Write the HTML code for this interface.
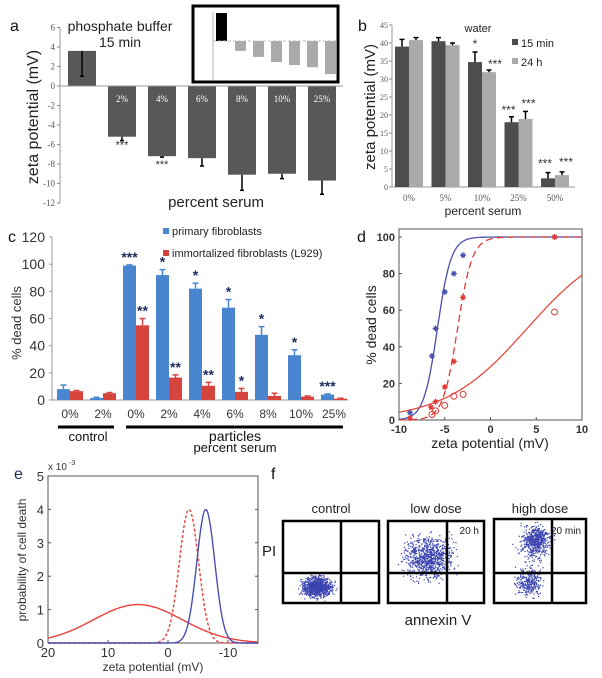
<!DOCTYPE html>
<html><head><meta charset="utf-8"><style>
body{margin:0;background:#fff}
svg{display:block;font-family:"Liberation Sans",sans-serif}
</style></head><body>
<svg id="fig" width="602" height="678" viewBox="0 0 602 678"></svg>
<script>
// ---------- data ----------
const aCats=["0%","2%","4%","6%","8%","10%","25%"];
const aVals=[3.6,-5.2,-7.2,-7.4,-9.1,-9.0,-9.7];
const aErrLo=[1.0,-5.6,-7.3,-8.2,-10.7,-9.5,-11.1];
const aTicks=[6,4,2,0,-2,-4,-6,-8,-10,-12];
const insetVals=[6.5,-2.3,-3.7,-4.9,-5.6,-6.1,-7.7];
const bCats=["0%","5%","10%","25%","50%"];
const b15=[39,40.5,34.7,18,2.4];
const b24=[40.8,39.4,31.9,18.9,3.3];
const b15Err=[41,41.5,37.5,19.5,4];
const b24Err=[41.5,40,32.5,21,4.2];
const bTicks=[0,5,10,15,20,25,30,35,40,45];
const cCats=["0%","2%","0%","2%","4%","6%","8%","10%","25%"];
const cBlue=[8,1.5,99,92,82,68,48,33,4];
const cRed=[6.5,5,55,16.5,10.5,6,3,2.5,1];
const cBlueErr=[11,2,99.5,96,86,74,54,37,4.5];
const cRedErr=[7,5.5,60,18.5,13,8.5,5,3,1.3];
const cBlueStars=["","","***","*","*","*","*","*","***"];
const cRedStars=["","","**","**","**","*","","",""];
const cTicks=[0,20,40,60,80,100,120];
const dBlueX=[-8.8,-6.4,-6,-5,-4,-3,7];
const dBlueY=[4,35,50,70,80,90,100];
const dRedStarX=[-8.8,-6.5,-6,-5,-4,-3,7];
const dRedStarY=[1,7,10,18,32,67,100];
const dCircX=[-6.4,-6,-5,-4,-3,7];
const dCircY=[3,5,8,13,14,59];
const dFitCenter=[-5.8,-3.6,4];
const dFitScale=[0.75,0.8,4.5];
const eMeans=[5,-3.5,-6.3];
const eSigmas=[7.4,1.6,1.5];
const ePeaks=[1.15,4,4];
const fCenters=[[0.35,0.8],[0.42,0.45],[0.45,0.3]];

const S=document.getElementById('fig');
const NS='http://www.w3.org/2000/svg';
function el(t,a,p){const e=document.createElementNS(NS,t);for(const k in a)e.setAttribute(k,a[k]);(p||S).appendChild(e);return e;}
function tx(x,y,s,a,p){const e=el('text',Object.assign({x:x,y:y},a||{}),p);e.textContent=s;return e;}

// ---------- panel a ----------
const ga=el('g',{});


const ay=v=>86-v*9.75;
const ax=i=>82+i*40;
aTicks.forEach(t=>{tx(55,ay(t)+3,String(t),{'font-size':9,'text-anchor':'end',fill:'#555','font-family':'Liberation Serif, serif'},ga);el('line',{x1:57,x2:60,y1:ay(t),y2:ay(t),stroke:'#888'},ga);});
el('line',{x1:60,x2:60,y1:ay(6),y2:ay(-12),stroke:'#999'},ga);
aVals.forEach((v,i)=>{
 const b=el('rect',{x:ax(i)-14,y:Math.min(ay(v),ay(0)),width:28,height:Math.abs(ay(v)-ay(0)),fill:'#585858'},ga);
 
 
 el('line',{x1:ax(i),x2:ax(i),y1:ay(v),y2:ay(aErrLo[i]),stroke:'#000','stroke-width':1.5},ga);
 el('line',{x1:ax(i)-2,x2:ax(i)+2,y1:ay(aErrLo[i]),y2:ay(aErrLo[i]),stroke:'#000','stroke-width':1.5},ga);
 if(i>0)tx(ax(i),ay(0)+16,aCats[i],{'font-size':9,'text-anchor':'middle',fill:'#fff','font-family':'Liberation Serif, serif'},ga);
});
el('line',{x1:60,x2:343,y1:ay(0),y2:ay(0),stroke:'#999'},ga);
tx(ax(1),ay(-6.4),'***',{'font-size':11,'text-anchor':'middle',fill:'#333'},ga);
tx(ax(2),ay(-8.2)+2,'***',{'font-size':11,'text-anchor':'middle',fill:'#333'},ga);
tx(10,31,'a',{'font-size':16,fill:'#111'},ga);
tx(120,31,'phosphate buffer',{'font-size':14,'text-anchor':'middle',fill:'#222'},ga);
tx(120,47,'15 min',{'font-size':14,'text-anchor':'middle',fill:'#222'},ga);
tx(216,207,'percent serum',{'font-size':15,'text-anchor':'middle',fill:'#222'},ga);
tx(0,0,'zeta potential (mV)',{'font-size':16,'text-anchor':'middle',fill:'#222',transform:'translate(38,117) rotate(-90)'},ga);
// inset
const gi=el('g',{},ga);


el('rect',{x:193,y:6,width:145,height:76,fill:'#fff',stroke:'#000','stroke-width':3},gi);
const iy=v=>41-v*4.3;
el('line',{x1:213,x2:213,y1:12,y2:80,stroke:'#999','stroke-width':0.7},gi);
insetVals.forEach((v,i)=>{const x=i==0?216:235+(i-1)*18;el('rect',{x:x,y:Math.min(iy(v),iy(0)),width:11,height:Math.abs(iy(v)-iy(0)),fill:i==0?'#000':'#aaa'},gi);});
el('line',{x1:213,x2:336,y1:iy(0),y2:iy(0),stroke:'#bbb','stroke-dasharray':'3,2'},gi);

// ---------- panel b ----------
const gb=el('g',{});


const by=v=>187-v*3.6;
const bx=i=>409+i*36.5;
bTicks.forEach(t=>{tx(388,by(t)+3,String(t),{'font-size':8,'text-anchor':'end',fill:'#555','font-family':'Liberation Serif, serif'},gb);el('line',{x1:389,x2:392,y1:by(t),y2:by(t),stroke:'#888'},gb);});
el('line',{x1:392,x2:392,y1:by(45),y2:by(0),stroke:'#999'},gb);
el('line',{x1:392,x2:575,y1:by(0),y2:by(0),stroke:'#999'},gb);
bCats.forEach((c,i)=>{
 [[b15,b15Err,'#4d4d4d',-14],[b24,b24Err,'#aaaaaa',0]].forEach(([vals,errs,col,off],k)=>{
  const r=el('rect',{x:bx(i)+off,y:by(vals[i]),width:14,height:by(0)-by(vals[i]),fill:col},gb);
  
  
  const cx=bx(i)+off+7;
  el('line',{x1:cx,x2:cx,y1:by(vals[i]),y2:by(errs[i]),stroke:'#000','stroke-width':1.5},gb);
  el('line',{x1:cx-2.5,x2:cx+2.5,y1:by(errs[i]),y2:by(errs[i]),stroke:'#000','stroke-width':1.5},gb);
 });
 tx(bx(i),201,c,{'font-size':9,'text-anchor':'middle',fill:'#555','font-family':'Liberation Serif, serif'},gb);
});
[['*',bx(2)-7,by(b15Err[2])-4],['***',bx(2)+13,by(b24Err[2])-2],['***',bx(3)-10,by(b15Err[3])-3],['***',bx(3)+10,by(b24Err[3])-4],['***',bx(4)-10,by(b15Err[4])-5],['***',bx(4)+11,by(b24Err[4])-6]].forEach(s=>tx(s[1],s[2],s[0],{'font-size':12,'text-anchor':'middle',fill:'#333'},gb));
tx(478,32,'water',{'font-size':11,'text-anchor':'middle',fill:'#222'},gb);
el('rect',{x:512,y:39,width:6,height:6,fill:'#4d4d4d'},gb);
tx(521,47,'15 min',{'font-size':11,fill:'#222'},gb);
el('rect',{x:512,y:58,width:6,height:6,fill:'#aaa'},gb);
tx(521,66,'24 h',{'font-size':11,fill:'#222'},gb);
tx(483,215,'percent serum',{'font-size':12,'text-anchor':'middle',fill:'#222'},gb);
tx(0,0,'zeta potential (mV)',{'font-size':15,'text-anchor':'middle',fill:'#222',transform:'translate(375,107) rotate(-90)'},gb);
tx(358,31,'b',{'font-size':16,fill:'#111'},gb);

// ---------- panel c ----------
const gc=el('g',{});


const cy=v=>400-v*1.358;
const cx=i=>70+i*33;
cTicks.forEach(t=>{tx(45,cy(t)+5,String(t),{'font-size':14,'text-anchor':'end',fill:'#333'},gc);el('line',{x1:49,x2:52,y1:cy(t),y2:cy(t),stroke:'#999'},gc);});
el('line',{x1:52,x2:52,y1:cy(120),y2:cy(0),stroke:'#999'},gc);
el('line',{x1:52,x2:348,y1:cy(0),y2:cy(0),stroke:'#999'},gc);
cCats.forEach((c,i)=>{
 [[cBlue,cBlueErr,'#4a86cf',-13,cBlueStars],[cRed,cRedErr,'#d6453d',0,cRedStars]].forEach(([vals,errs,col,off,st],k)=>{
  const r=el('rect',{x:cx(i)+off,y:cy(vals[i]),width:13,height:cy(0)-cy(vals[i]),fill:col},gc);
  
  
  const xm=cx(i)+off+6.5;
  el('line',{x1:xm,x2:xm,y1:cy(vals[i]),y2:cy(errs[i]),stroke:col,'stroke-width':1.5},gc);
  el('line',{x1:xm-3,x2:xm+3,y1:cy(errs[i]),y2:cy(errs[i]),stroke:col,'stroke-width':1.5},gc);
  if(st[i])tx(xm,cy(errs[i])-3,st[i],{'font-size':14,'text-anchor':'middle',fill:'#1c2a5a','font-weight':'bold'},gc);
 });
 tx(cx(i),418,c,{'font-size':12,'text-anchor':'middle',fill:'#333'},gc);
});
el('line',{x1:58,x2:114,y1:427,y2:427,stroke:'#000','stroke-width':3},gc);
el('line',{x1:126,x2:343,y1:427,y2:427,stroke:'#000','stroke-width':3},gc);
tx(88,441,'control',{'font-size':13,'text-anchor':'middle',fill:'#111'},gc);
tx(235,441,'particles',{'font-size':14,'text-anchor':'middle',fill:'#111'},gc);
tx(235,452,'percent serum',{'font-size':13,'text-anchor':'middle',fill:'#111'},gc);
el('rect',{x:163,y:228,width:6,height:6,fill:'#4a86cf'},gc);
tx(172,235,'primary fibroblasts',{'font-size':11,fill:'#222'},gc);
el('rect',{x:163,y:250,width:6,height:6,fill:'#d6453d'},gc);
tx(172,257,'immortalized fibroblasts (L929)',{'font-size':11,fill:'#222'},gc);
tx(0,0,'% dead cells',{'font-size':13,'text-anchor':'middle',fill:'#333',transform:'translate(21,323) rotate(-90)'},gc);
tx(8,242,'c',{'font-size':16,fill:'#111'},gc);

// ---------- panel d ----------
const gd=el('g',{});


const dx=v=>399+(v+10)*9.15;
const dy=v=>420-v*1.83;
el('rect',{x:399,y:229,width:183,height:191,fill:'none',stroke:'#555'},gd);
[0,20,40,60,80,100].forEach(t=>{tx(395,dy(t)+4,String(t),{'font-size':11,'text-anchor':'end',fill:'#333','font-weight':'bold'},gd);el('line',{x1:399,x2:402,y1:dy(t),y2:dy(t),stroke:'#555'},gd);});
[-10,-5,0,5,10].forEach(t=>{tx(dx(t),433,String(t),{'font-size':11,'text-anchor':'middle',fill:'#333','font-weight':'bold'},gd);el('line',{x1:dx(t),x2:dx(t),y1:420,y2:417,stroke:'#555'},gd);});
const dCols=['#4b4fb0','#e03a36','#e84a40'];
const dDash=['','7,4',''];
dFitCenter.forEach((c,k)=>{
 let p='';for(let v=-10;v<=10.001;v+=0.1){const y=100/(1+Math.exp(-(v-c)/dFitScale[k]));p+=(p?'L':'M')+dx(v).toFixed(1)+','+dy(y).toFixed(1);}
 const l=el('path',{d:p,fill:'none',stroke:dCols[k],'stroke-width':1.3,'stroke-dasharray':dDash[k]},gd);
 
 
});
function star(x,y,c){el('path',{d:`M${x-3},${y}h6M${x},${y-3}v6M${x-2},${y-2}l4,4M${x-2},${y+2}l4,-4`,stroke:c,'stroke-width':1.2},gd);}
dBlueX.forEach((v,i)=>star(dx(v),dy(dBlueY[i]),'#4b4fb0'));
dRedStarX.forEach((v,i)=>star(dx(v),dy(dRedStarY[i]),'#e03a36'));
dCircX.forEach((v,i)=>el('circle',{cx:dx(v),cy:dy(dCircY[i]),r:3,fill:'none',stroke:'#e03a36'},gd));
tx(490,448,'zeta potential (mV)',{'font-size':14,'text-anchor':'middle',fill:'#222'},gd);
tx(0,0,'% dead cells',{'font-size':14,'text-anchor':'middle',fill:'#222',transform:'translate(376,325) rotate(-90)'},gd);
tx(357,242,'d',{'font-size':16,fill:'#111'},gd);

// ---------- panel e ----------
const ge=el('g',{});


const ex=v=>48+(20-v)*6;
const ey=v=>643-v*33.4;
el('rect',{x:48,y:476,width:210,height:167,fill:'none',stroke:'#555'},ge);
[0,1,2,3,4,5].forEach(t=>{tx(44,ey(t)+5,String(t),{'font-size':13,'text-anchor':'end',fill:'#333'},ge);el('line',{x1:48,x2:51,y1:ey(t),y2:ey(t),stroke:'#555'},ge);el('line',{x1:258,x2:255,y1:ey(t),y2:ey(t),stroke:'#555'},ge);});
[20,10,0,-10].forEach(t=>{tx(ex(t),657,String(t),{'font-size':13,'text-anchor':'middle',fill:'#333'},ge);el('line',{x1:ex(t),x2:ex(t),y1:643,y2:640,stroke:'#555'},ge);});
tx(48,470,'x 10',{'font-size':10,fill:'#333'},ge);
tx(69,465,'-3',{'font-size':7,fill:'#333'},ge);
const eCols=['#e8403a','#e8403a','#4b4fb0'];
const eDash=['','3,2',''];
eMeans.forEach((m,k)=>{
 let p='';for(let v=20;v>=-15;v-=0.2){const y=ePeaks[k]*Math.exp(-Math.pow(v-m,2)/(2*eSigmas[k]*eSigmas[k]));p+=(p?'L':'M')+ex(v).toFixed(1)+','+ey(y).toFixed(1);}
 const l=el('path',{d:p,fill:'none',stroke:eCols[k],'stroke-width':1.4,'stroke-dasharray':eDash[k]},ge);
 
 
});
tx(153,671,'zeta potential (mV)',{'font-size':12,'text-anchor':'middle',fill:'#333'},ge);
tx(0,0,'probability of cell death',{'font-size':12,'text-anchor':'middle',fill:'#333',transform:'translate(26,560) rotate(-90)'},ge);
tx(14,479,'e',{'font-size':16,fill:'#1c2a5a'},ge);

// ---------- panel f ----------
const gf=el('g',{});


let seed=7;function rnd(){seed=(seed*16807)%2147483647;return seed/2147483647;}
function gauss(){return (rnd()+rnd()+rnd()+rnd()-2)/1.15;}
const boxes=[[283,521,96,82,341,573,'control','',0.05,0.78,0.14,0.12],[388,521,96,82,447,573,'low dose','20 h',0.05,0.42,0.24,0.24],[494,519,92,84,552,573,'high dose','20 min',0.05,0.3,0.17,0.2]];
boxes.forEach((b,k)=>{
 const [x,y,w,h,vx,hy,t,lab]=b;
 const n=k==0?900:k==1?900:900;
 for(let i=0;i<n;i++){
  let c=fCenters[k];let sx=b[10],sy=b[11];
  if(k==2&&i%3==0){c=[0.45,0.22];sx=0.12;sy=0.14;}
  if(k==2&&i%3==1){c=[0.38,0.75];sx=0.13;sy=0.15;}
  const px=x+w*(c[0]+gauss()*sx),py=y+h*(c[1]+gauss()*sy);
  if(px>x+2&&px<x+w-2&&py>y+2&&py<y+h-2)el('rect',{x:px.toFixed(1),y:py.toFixed(1),width:1.2,height:1.2,fill:'#3a44b0'},gf);
 }
 const r=el('rect',{x:x,y:y,width:w,height:h,fill:'none',stroke:'#000','stroke-width':2.5},gf);
 
 
 el('line',{x1:vx,x2:vx,y1:y,y2:y+h,stroke:'#000','stroke-width':2.5},gf);
 el('line',{x1:x,x2:x+w,y1:hy,y2:hy,stroke:'#000','stroke-width':2.5},gf);
 tx(x+w/2,513,t,{'font-size':13,'text-anchor':'middle',fill:'#222'},gf);
 if(lab)tx(x+w-5,534,lab,{'font-size':10,'text-anchor':'end',fill:'#222'},gf);
});
tx(438,625,'annexin V',{'font-size':15,'text-anchor':'middle',fill:'#222'},gf);
tx(262,556,'PI',{'font-size':15,fill:'#222'},gf);
tx(271,479,'f',{'font-size':16,fill:'#111'},gf);
</script>
</body></html>
